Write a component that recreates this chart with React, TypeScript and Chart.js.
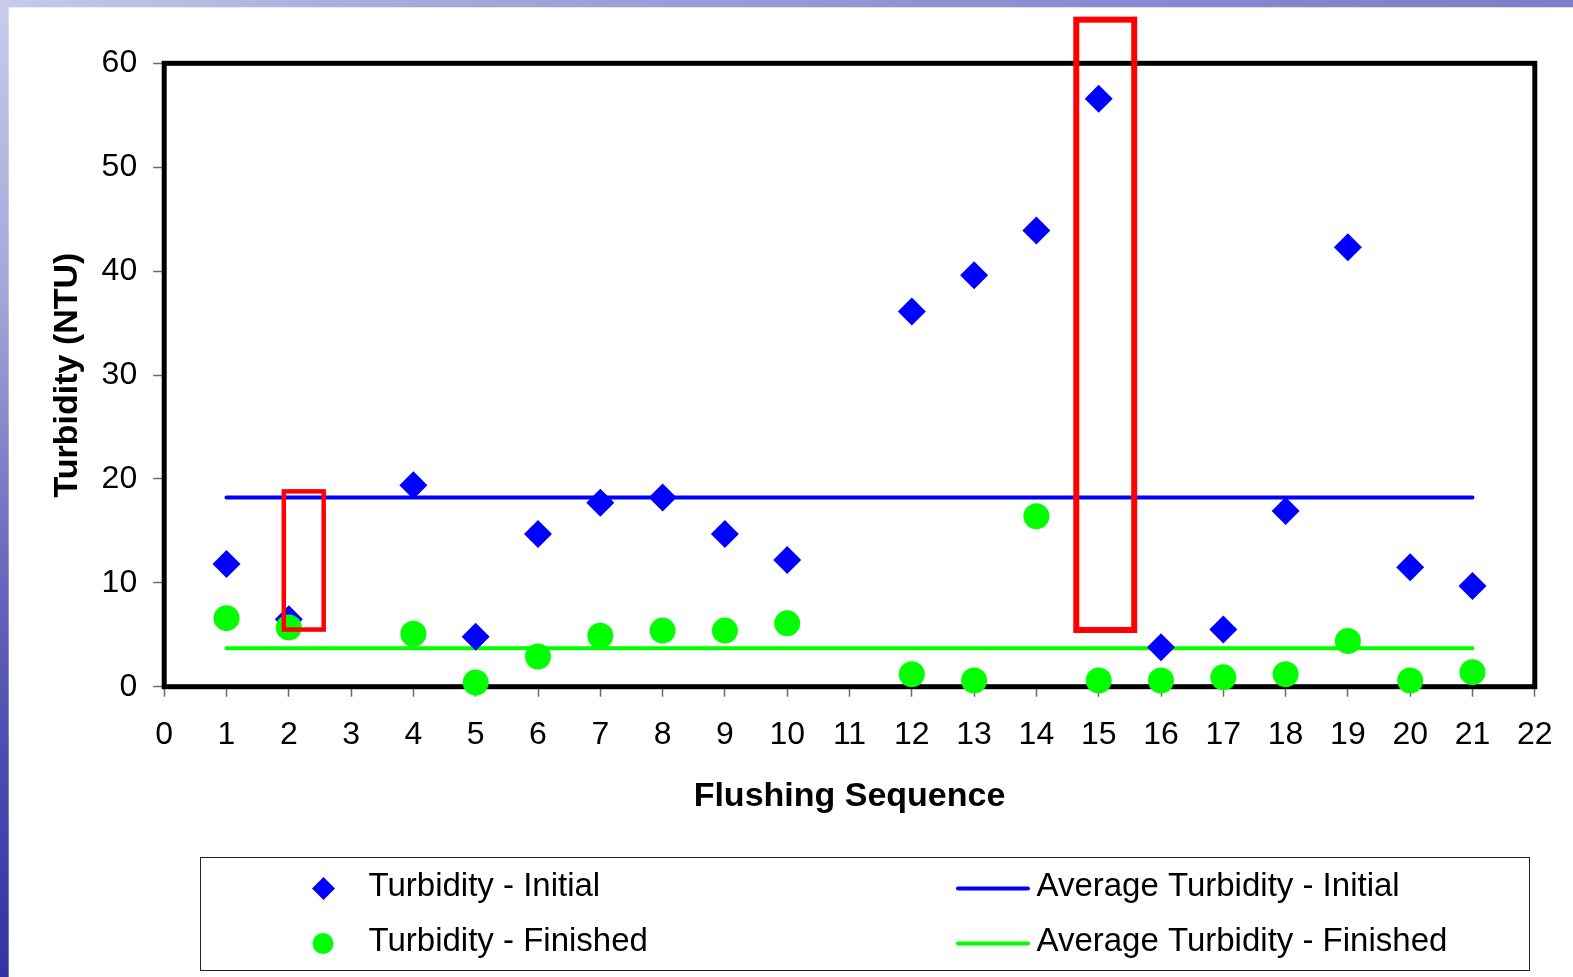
import React, { useEffect, useRef } from "react";
import { Chart, registerables } from "chart.js";

Chart.register(...registerables);

// Flushing runs that were sampled (no samples at 3 and 11)
const flushSequence = [1, 2, 4, 5, 6, 7, 8, 9, 10, 12, 13, 14, 15, 16, 17, 18, 19, 20, 21];
// Turbidity before flushing (NTU)
const turbidityInitial = [11.8, 6.5, 19.4, 4.8, 14.7, 17.7, 18.2, 14.7, 12.2, 36.1, 39.6, 43.9, 56.6, 3.8, 5.5, 16.9, 42.3, 11.5, 9.7];
// Turbidity after flushing (NTU)
const turbidityFinished = [6.6, 5.7, 5.1, 0.4, 2.9, 4.9, 5.4, 5.4, 6.1, 1.2, 0.6, 16.4, 0.6, 0.6, 0.9, 1.2, 4.4, 0.6, 1.4];
// Reference averages drawn as horizontal lines
const averageInitial = 18.2;
const averageFinished = 3.7;

// Axis ranges
const xRange = { min: 0, max: 22, step: 1 };
const yRange = { min: 0, max: 60, step: 10 };

// Series labels
const labelInitial = "Turbidity - Initial";
const labelFinished = "Turbidity - Finished";
const labelAvgInitial = "Average Turbidity - Initial";
const labelAvgFinished = "Average Turbidity - Finished";

// Highlighted runs (data coordinates)
const highlightBoxes = [
  { xMin: 1.92, xMax: 2.56, yMin: 5.5, yMax: 18.8, lineWidth: 4.5 },
  { xMin: 14.64, xMax: 15.57, yMin: 5.46, yMax: 64.2, lineWidth: 6 },
];

const FONT = "'Liberation Sans', Arial, Helvetica, sans-serif";
const W = 1573;
const H = 977;

const BLUE = "#0000ff";
const GREEN = "#00ff00";

const pagePlugin = {
  id: "pageBackground",
  beforeDraw(chart: any) {
    const ctx = chart.ctx as CanvasRenderingContext2D;
    ctx.save();
    ctx.fillStyle = "#ffffff";
    ctx.fillRect(0, 0, W, H);
    // top strip
    const gTop = ctx.createLinearGradient(0, 0, W, 0);
    gTop.addColorStop(0, "#c9c9eb");
    gTop.addColorStop(0.25, "#a9a9dc");
    gTop.addColorStop(0.7, "#8a8ad0");
    gTop.addColorStop(1, "#7e7ec8");
    ctx.fillStyle = gTop;
    ctx.fillRect(0, 0, W, 7.3);
    // left strip
    const gLeft = ctx.createLinearGradient(0, 0, 0, H);
    gLeft.addColorStop(0, "#cbcbec");
    gLeft.addColorStop(0.3, "#a5a5d9");
    gLeft.addColorStop(0.6, "#6565bb");
    gLeft.addColorStop(0.8, "#4848ae");
    gLeft.addColorStop(1, "#3333a3");
    ctx.fillStyle = gLeft;
    ctx.fillRect(0, 0, 8.7, H);
    ctx.restore();
  },
};

const framePlugin = {
  id: "plotFrame",
  beforeDatasetsDraw(chart: any) {
    const { ctx, chartArea } = chart;
    ctx.save();
    ctx.strokeStyle = "#000000";
    ctx.lineWidth = 5;
    ctx.lineJoin = "miter";
    ctx.strokeRect(chartArea.left, chartArea.top, chartArea.right - chartArea.left, chartArea.bottom - chartArea.top);
    ctx.restore();
  },
};

const highlightPlugin = {
  id: "highlightBoxes",
  afterDraw(chart: any) {
    const { ctx, scales } = chart;
    ctx.save();
    ctx.strokeStyle = "#ff0000";
    ctx.lineJoin = "miter";
    for (const b of highlightBoxes) {
      const x1 = scales.x.getPixelForValue(b.xMin);
      const x2 = scales.x.getPixelForValue(b.xMax);
      const y1 = scales.y.getPixelForValue(b.yMax);
      const y2 = scales.y.getPixelForValue(b.yMin);
      ctx.lineWidth = b.lineWidth;
      ctx.strokeRect(x1, y1, x2 - x1, y2 - y1);
    }
    ctx.restore();
  },
};

const legendPlugin = {
  id: "boxLegend",
  afterDraw(chart: any) {
    const ctx = chart.ctx as CanvasRenderingContext2D;
    const ds = chart.data.datasets;
    ctx.save();
    // frame
    ctx.strokeStyle = "#222222";
    ctx.lineWidth = 1;
    ctx.strokeRect(200.5, 857.5, 1329, 113);

    ctx.font = `33px ${FONT}`;
    ctx.fillStyle = "#000000";
    ctx.textBaseline = "alphabetic";
    ctx.textAlign = "left";

    const rows = [
      { markerY: 888.5, textY: 895.5 },
      { markerY: 943.5, textY: 950.5 },
    ];
    const pointSets = [ds[0], ds[1]];
    const lineSets = [ds[2], ds[3]];

    pointSets.forEach((d: any, i: number) => {
      const { markerY, textY } = rows[i];
      ctx.fillStyle = d.backgroundColor;
      ctx.beginPath();
      if (d.pointStyle === "rectRot") {
        const r = 11.5;
        ctx.moveTo(323.5 - r, markerY);
        ctx.lineTo(323.5, markerY - r);
        ctx.lineTo(323.5 + r, markerY);
        ctx.lineTo(323.5, markerY + r);
        ctx.closePath();
      } else {
        ctx.arc(323, markerY, 10.5, 0, Math.PI * 2);
      }
      ctx.fill();
      ctx.fillStyle = "#000000";
      ctx.fillText(d.label, 368.5, textY);
    });

    lineSets.forEach((d: any, i: number) => {
      const { markerY, textY } = rows[i];
      ctx.strokeStyle = d.borderColor;
      ctx.lineWidth = 4;
      ctx.lineCap = "round";
      ctx.beginPath();
      ctx.moveTo(958, markerY);
      ctx.lineTo(1028, markerY);
      ctx.stroke();
      ctx.fillStyle = "#000000";
      ctx.fillText(d.label, 1036.5, textY);
    });
    ctx.restore();
  },
};

export default function App() {
  const canvasRef = useRef<HTMLCanvasElement | null>(null);

  useEffect(() => {
    const canvas = canvasRef.current;
    if (!canvas) return;

    const initialPoints = flushSequence.map((x, i) => ({ x, y: turbidityInitial[i] }));
    const finishedPoints = flushSequence.map((x, i) => ({ x, y: turbidityFinished[i] }));
    const first = flushSequence[0];
    const last = flushSequence[flushSequence.length - 1];

    const chart = new Chart(canvas, {
      type: "scatter",
      data: {
        datasets: [
          {
            label: labelInitial,
            data: initialPoints,
            pointStyle: "rectRot",
            pointRadius: 14,
            backgroundColor: BLUE,
            borderWidth: 0,
            clip: false,
            order: 1,
          },
          {
            label: labelFinished,
            data: finishedPoints,
            pointStyle: "circle",
            pointRadius: 13,
            backgroundColor: GREEN,
            borderWidth: 0,
            clip: false,
            order: 0,
          },
          {
            label: labelAvgInitial,
            data: [
              { x: first, y: averageInitial },
              { x: last, y: averageInitial },
            ],
            showLine: true,
            pointRadius: 0,
            borderColor: BLUE,
            backgroundColor: BLUE,
            borderWidth: 4,
            borderCapStyle: "round",
            order: 2,
          },
          {
            label: labelAvgFinished,
            data: [
              { x: first, y: averageFinished },
              { x: last, y: averageFinished },
            ],
            showLine: true,
            pointRadius: 0,
            borderColor: GREEN,
            backgroundColor: GREEN,
            borderWidth: 4,
            borderCapStyle: "round",
            order: 3,
          },
        ] as any,
      },
      options: {
        responsive: false,
        animation: false,
        devicePixelRatio: 1,
        events: [],
        layout: { padding: { left: 0, top: 63.3, right: 38.2, bottom: 160.3 } },
        plugins: {
          legend: { display: false },
          tooltip: { enabled: false },
        },
        scales: {
          x: {
            type: "linear",
            min: xRange.min,
            max: xRange.max,
            ticks: {
              stepSize: xRange.step,
              autoSkip: false,
              maxRotation: 0,
              color: "#000000",
              padding: 19,
              font: { family: FONT, size: 32 },
            },
            grid: {
              drawOnChartArea: false,
              drawTicks: true,
              tickLength: 10,
              tickColor: "#6a6a6a",
              tickWidth: 1.5,
            },
            border: { display: false },
            title: {
              display: true,
              text: "Flushing Sequence",
              color: "#000000",
              font: { family: FONT, size: 34, weight: "bold" },
              padding: { top: 0, bottom: 0 },
            },
            afterFit: (scale: any) => {
              scale.height = 130;
            },
          },
          y: {
            type: "linear",
            min: yRange.min,
            max: yRange.max,
            ticks: {
              stepSize: yRange.step,
              color: "#000000",
              padding: 16,
              font: { family: FONT, size: 32 },
            },
            grid: {
              drawOnChartArea: false,
              drawTicks: true,
              tickLength: 11,
              tickColor: "#6a6a6a",
              tickWidth: 1.5,
            },
            border: { display: false },
            title: {
              display: true,
              text: "Turbidity (NTU)",
              color: "#000000",
              font: { family: FONT, size: 34, weight: "bold" },
              padding: { top: 47, bottom: 0 },
            },
            afterFit: (scale: any) => {
              scale.width = 164.2;
            },
          },
        },
      } as any,
      plugins: [pagePlugin, framePlugin, highlightPlugin, legendPlugin],
    });

    return () => chart.destroy();
  }, []);

  return (
    <div style={{ position: "fixed", left: 0, top: 0, width: W, height: H, overflow: "hidden" }}>
      <canvas ref={canvasRef} width={W} height={H} style={{ display: "block", width: W, height: H }} />
    </div>
  );
}
